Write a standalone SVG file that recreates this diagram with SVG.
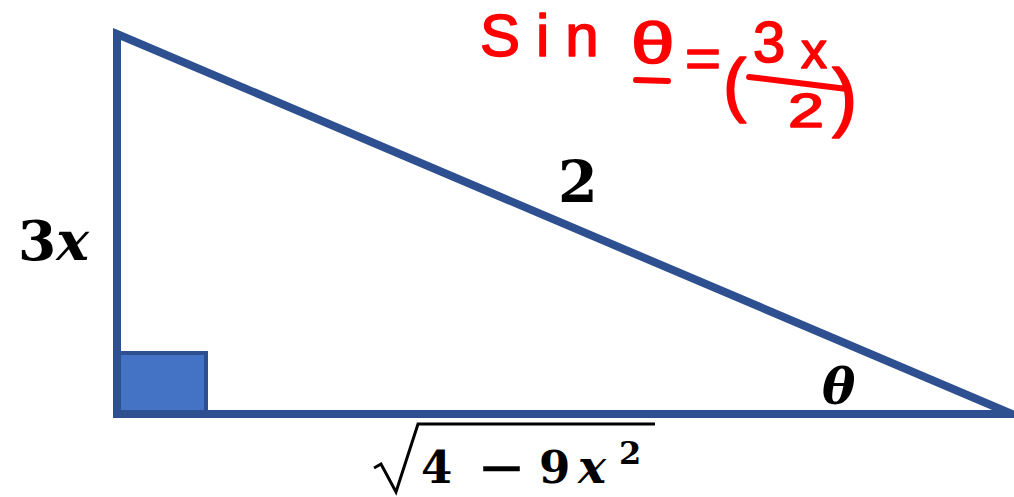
<svg xmlns="http://www.w3.org/2000/svg" width="1014" height="497" viewBox="0 0 1014 497">
<style>
.edge{fill:none;stroke:#2E5090;stroke-width:8;stroke-linejoin:miter;stroke-miterlimit:10}
.sq{fill:#4472C4;stroke:#2E5090;stroke-width:4}
.m{font-family:"DejaVu Serif","Liberation Serif",serif;font-weight:bold;fill:#000}
.mi{font-family:"DejaVu Serif","Liberation Serif",serif;font-weight:bold;font-style:italic;fill:#000}
.hw{font-family:"Liberation Sans","Noto Sans",sans-serif;fill:#FF0000;stroke:#FF0000;stroke-width:1.6;stroke-linejoin:round}
.hwl{stroke:#FF0000;stroke-width:6;stroke-linecap:round;fill:none}
</style>
<rect width="1014" height="497" fill="#FFFFFF"/>
<g id="triangle">
<rect class="sq" x="119" y="353" width="87" height="61"/>
<polygon class="edge" points="117,34 1012,414 117,414"/>
</g>
<g id="labels">
<text class="m" x="18" y="260" font-size="55">3<tspan class="mi">x</tspan></text>
<text class="m" x="558" y="202" font-size="57">2</text>
<text class="mi" x="822" y="404" font-size="50">θ</text>
<path d="M374,468 L381,464 L396,492 L418,424 L655,424" fill="none" stroke="#000" stroke-width="3" stroke-linejoin="miter"/>
<text class="m" font-size="45" y="483"><tspan x="421">4</tspan><tspan x="539">9</tspan><tspan class="mi" x="578" font-size="47">x</tspan><tspan x="619" y="464" font-size="32">2</tspan></text>
<text class="m" transform="translate(477,483) scale(1.3,1)" x="0" y="0" font-size="45">−</text>
</g>
<g id="annotation">
<text class="hw" x="480" y="56" font-size="60" letter-spacing="16">Sin</text>
<text class="hw" transform="translate(631,63) scale(1.35,1)" x="0" y="0" font-size="58">θ</text>
<line class="hwl" x1="636" y1="80" x2="668" y2="81"/>
<text class="hw" transform="translate(685,77) scale(1.1,1)" x="0" y="0" font-size="56">=</text>
<text class="hw" x="723" y="108" font-size="70">(</text>
<text class="hw" x="753" y="62" font-size="58">3</text>
<text class="hw" x="801" y="68" font-size="52">x</text>
<line class="hwl" x1="749" y1="77" x2="847" y2="89"/>
<text class="hw" transform="translate(788,127) scale(1.35,1)" x="0" y="0" font-size="48">2</text>
<text class="hw" x="832" y="122" font-size="76">)</text>
</g>
</svg>
